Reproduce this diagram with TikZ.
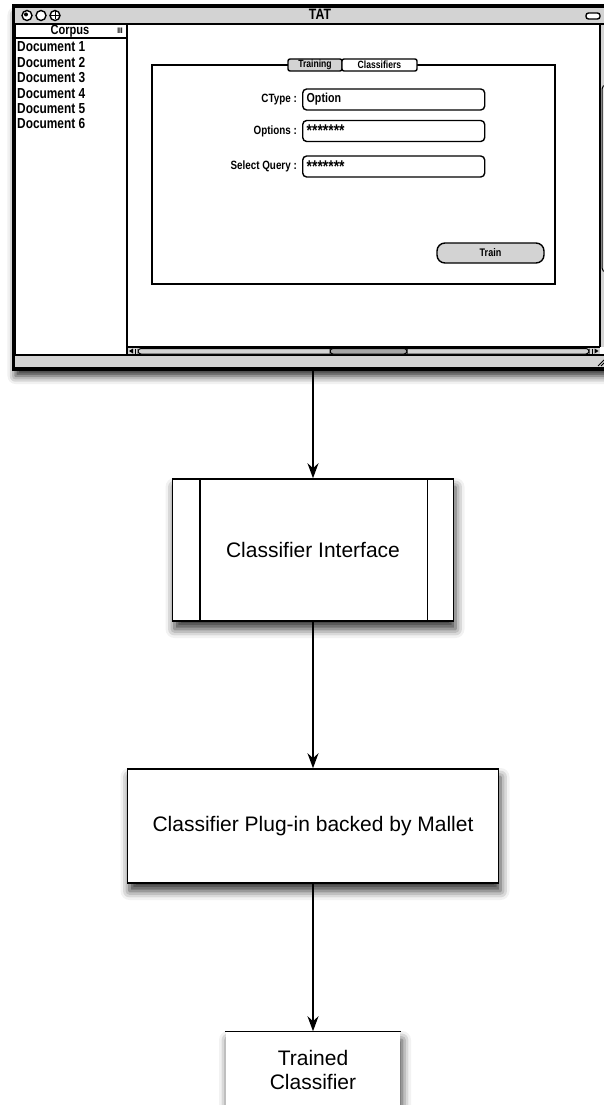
\documentclass[tikz,border=0pt]{standalone}
\usepackage{fontspec}
\setmainfont{Liberation Sans}
\newfontfamily\sketchfont[FakeStretch=0.82]{Liberation Sans}
\usetikzlibrary{arrows.meta, positioning, shadows.blur}

\definecolor{mockgray}{HTML}{D3D3D3}
\definecolor{thumbgray}{HTML}{A6A6A6}

\newcommand{\masked}{\raisebox{-4.5pt}{\fontsize{17}{17}\selectfont*******}}

\begin{document}
\begin{tikzpicture}[
  x=1pt, y=-1pt,
  winframe/.style={draw, line width=2.5pt, fill=white, inner sep=0pt,
    blur shadow={shadow xshift=1pt, shadow yshift=-8pt, shadow blur radius=8pt, shadow opacity=85}},
  ui/.style={draw, line width=1.4pt},
  sketch/.style={font=\sketchfont\bfseries\fontsize{#1}{#1}\selectfont, inner sep=0pt},
  tab/.style={ui, sketch=10.5, rounded corners=2pt, minimum height=12pt},
  field/.style={ui, fill=white, rounded corners=4pt, sketch=13, minimum height=21pt,
    text width=174pt, inner xsep=4pt, align=left, anchor=west},
  block/.style={draw, line width=1.5pt, fill=white, align=center,
    font=\fontsize{21}{24}\selectfont,
    blur shadow={shadow xshift=2pt, shadow yshift=-8pt, shadow blur radius=9pt, shadow opacity=80}},
  flow/.style={-{Stealth[length=15pt, width=11pt]}, line width=1.5pt}
]
  \useasboundingbox (0,0) rectangle (604,1105);
  \clip (0,0) rectangle (604,1105);

  % TAT window
  \node[winframe, minimum width=597pt, minimum height=361pt] (tat) at (313,187.5) {};
  \fill[mockgray] (15,8) rectangle (612,24);
  \fill[mockgray] (15,355) rectangle (612,367);
  \fill[mockgray] (600,24) rectangle (612,347);
  \draw[ui] (15,24) -- (612,24) (15,355) -- (612,355);
  \draw[ui, fill=white] (27,15.5) circle (5pt) (41,15.5) circle (5pt) (55,15.5) circle (5pt);
  \fill (26,14.5) circle (2pt);
  \draw[line width=1pt] (55,11.5) -- (55,19.5) (51,15.5) -- (59,15.5);
  \node[sketch=15] (title) at (320,14) {TAT};
  \draw[ui, fill=white, rounded corners=2.5pt] (586,13) rectangle (600,19);

  % corpus pane
  \draw[ui] (127,24) -- (127,355) (15,38) -- (127,38);
  \node[sketch=13.5] (corpus) at (70,31.5) {Corpus};
  \node[sketch=8] (grip) at (120,31) {III};
  \foreach \i [evaluate=\i as \y using {47+15.4*(\i-1)}] in {1,...,6}
    \node[sketch=14.5, anchor=west] (doc\i) at (17,\y) {Document \i};

  % scroll bars
  \draw[ui] (600,24) -- (600,347) (127,347) -- (600,347);
  \fill[mockgray] (128,348) rectangle (600,354);
  \draw[line width=1pt, fill=mockgray!60, rounded corners=4pt] (602,85) rectangle (614,272);
  \draw[line width=1pt, fill=mockgray, rounded corners=3pt] (138,348.5) rectangle (589,354);
  \draw[line width=1pt, fill=thumbgray, rounded corners=3pt] (330,348.5) rectangle (407,354);
  \fill (129,351) -- (133,348.5) -- (133,353.5) -- cycle;
  \draw[line width=1pt] (135.5,348.5) -- (135.5,354);
  \fill (598.5,351) -- (594.5,348.5) -- (594.5,353.5) -- cycle;
  \draw[line width=1pt] (592,348.5) -- (592,354);
  \draw[line width=1pt] (598,366) -- (604,360) (601,366) -- (604,363);
  \draw[line width=2.5pt] (tat.north west) rectangle (tat.south east);

  % classifier tab panel
  \draw[ui] (152,65) rectangle (555,284);
  \node[tab, fill=mockgray, minimum width=54pt] (trainingtab) at (315,65) {Training};
  \node[tab, fill=white, minimum width=75pt] (classtab) at (379.5,65) {Classifiers};

  \node[sketch=12, anchor=east] (ctypelbl) at (297,100) {CType :};
  \node[sketch=12, anchor=east] (optlbl) at (297,131) {Options :};
  \node[sketch=12, anchor=east] (querylbl) at (297,166) {Select Query :};
  \node[field] (ctype) at (302,99.5) {Option};
  \node[field] (opts) at (302,131) {\masked};
  \node[field] (query) at (302,166.5) {\masked};
  \node[ui, sketch=11, fill=mockgray, rounded corners=8pt, minimum width=107pt,
    minimum height=20pt] (train) at (490.5,253) {Train};

  % pipeline
  \node[block, minimum width=281pt, minimum height=142pt] (iface) at (313,550) {Classifier Interface};
  \draw[line width=1.5pt] ([xshift=28pt]iface.north west) -- ([xshift=28pt]iface.south west)
    ([xshift=-27pt]iface.north east) -- ([xshift=-27pt]iface.south east);
  \node[block, minimum width=371pt, minimum height=114pt] (plugin) at (313,826)
    {Classifier Plug-in backed by Mallet};
  \node[block, draw=none, minimum width=174pt, minimum height=76pt] (trained) at (313,1070)
    {Trained\\Classifier};
  \draw[line width=1.5pt] (trained.north west) -- (trained.north east);

  \draw[flow] (tat.south) -- (iface.north);
  \draw[flow] (iface.south) -- (plugin.north);
  \draw[flow] (plugin.south) -- (trained.north);
\end{tikzpicture}
\end{document}
